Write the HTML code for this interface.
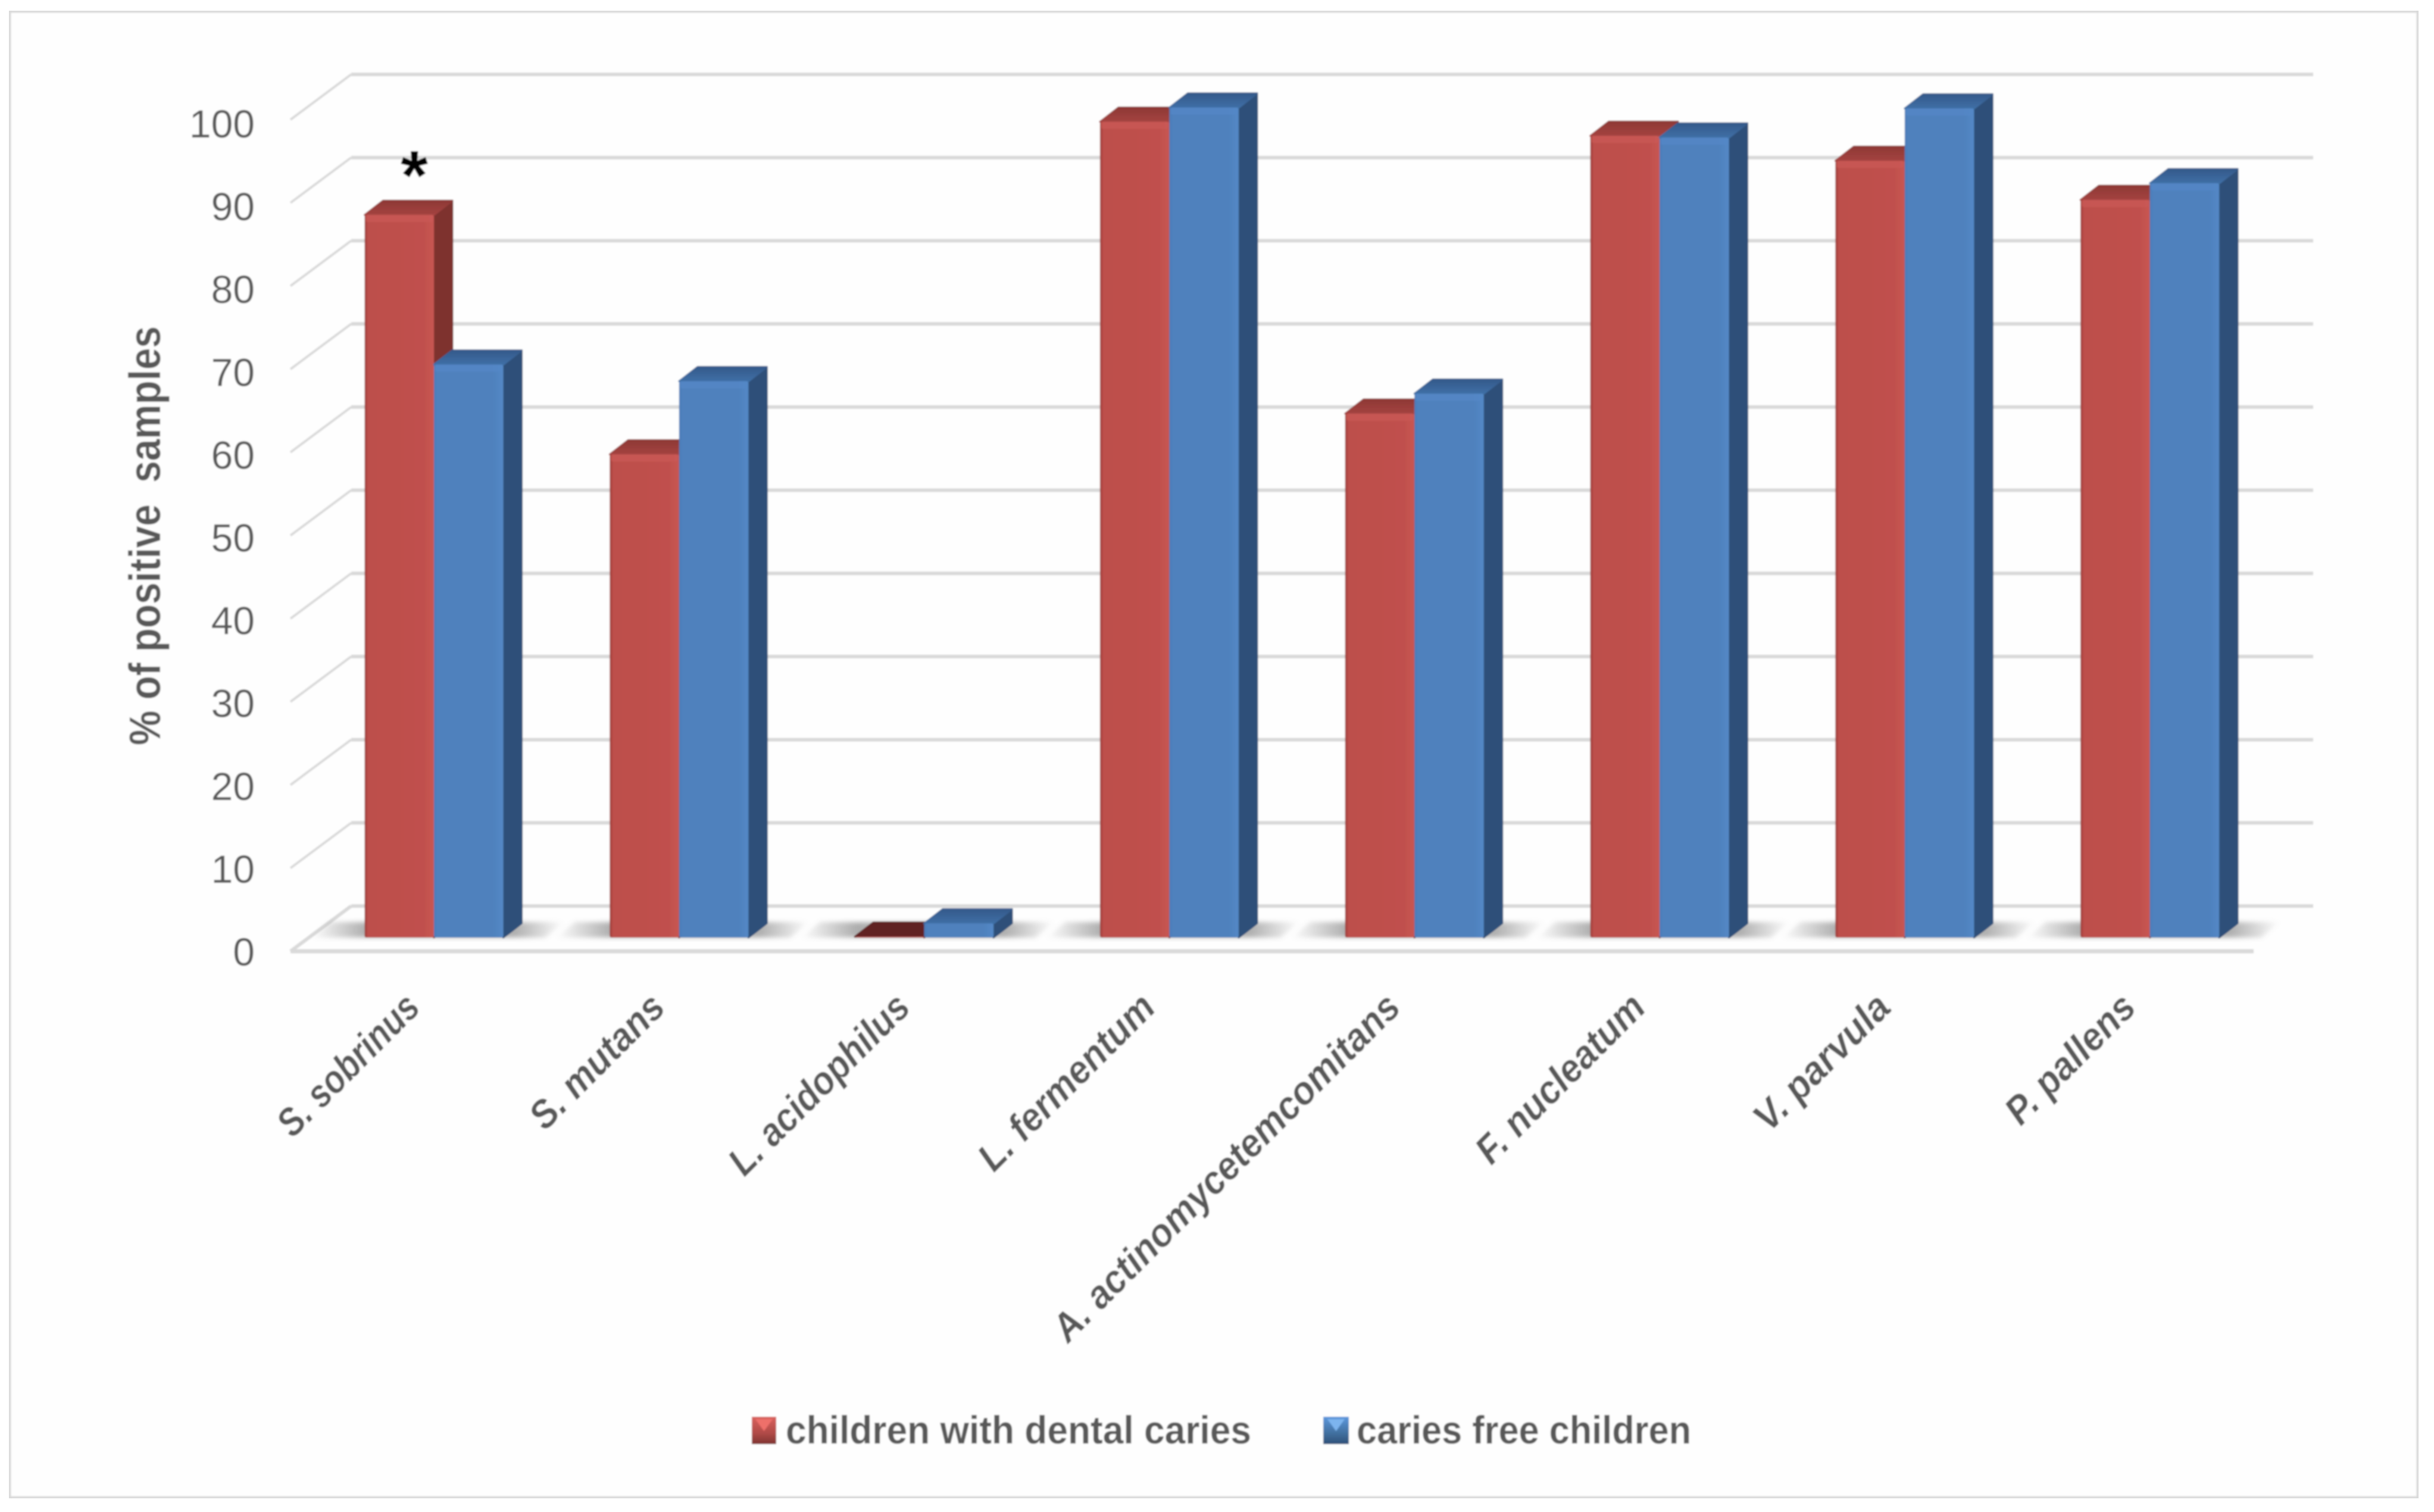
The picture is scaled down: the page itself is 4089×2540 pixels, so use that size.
<!DOCTYPE html>
<html lang="en">
<head>
<meta charset="utf-8">
<title>% of positive samples by species</title>
<style>
html,body{margin:0;padding:0;background:#fff;}
svg{display:block;}
text{font-family:"Liberation Sans",sans-serif;fill:#595959;}
</style>
</head>
<body>
<svg id="chart" xmlns="http://www.w3.org/2000/svg" width="4089" height="2540" viewBox="0 0 4089 2540">
<defs>
<filter id="soft" x="0" y="0" width="100%" height="100%"><feGaussianBlur stdDeviation="1.4"/></filter>
<filter id="shadowBlur" x="-10%" y="-30%" width="120%" height="160%"><feGaussianBlur stdDeviation="4"/></filter>
<linearGradient id="frontRed" x1="0" x2="1" y1="0" y2="0">
<stop offset="0" stop-color="#9c3b38"/><stop offset="0.05" stop-color="#bd4f4b"/><stop offset="0.85" stop-color="#c0504d"/><stop offset="1" stop-color="#c85652"/>
</linearGradient>
<linearGradient id="frontBlue" x1="0" x2="1" y1="0" y2="0">
<stop offset="0" stop-color="#4a7cb8"/><stop offset="0.05" stop-color="#4f81bd"/><stop offset="0.85" stop-color="#4f81bd"/><stop offset="1" stop-color="#5388c6"/>
</linearGradient>
<linearGradient id="topRed" x1="0" x2="0" y1="0" y2="1">
<stop offset="0" stop-color="#8e3835"/><stop offset="1" stop-color="#a44340"/>
</linearGradient>
<linearGradient id="topBlue" x1="0" x2="0" y1="0" y2="1">
<stop offset="0" stop-color="#34598a"/><stop offset="1" stop-color="#3f6fa6"/>
</linearGradient>
<linearGradient id="floorShadow" x1="0" x2="1" y1="0" y2="0">
<stop offset="0" stop-color="#999999" stop-opacity="0"/><stop offset="0.22" stop-color="#999999" stop-opacity="0.8"/><stop offset="0.8" stop-color="#999999" stop-opacity="0.8"/><stop offset="1" stop-color="#999999" stop-opacity="0"/>
</linearGradient>
<linearGradient id="swatchRed" x1="0" x2="0" y1="0" y2="1">
<stop offset="0" stop-color="#d9615d"/><stop offset="0.6" stop-color="#b04a47"/><stop offset="1" stop-color="#7f3331"/>
</linearGradient>
<linearGradient id="swatchBlue" x1="0" x2="0" y1="0" y2="1">
<stop offset="0" stop-color="#5c97dd"/><stop offset="0.6" stop-color="#41709f"/><stop offset="1" stop-color="#2e5079"/>
</linearGradient>
</defs>
<g id="root" filter="url(#soft)">
<rect x="15" y="18" width="4048" height="2499" fill="#fefefe" stroke="#d9d9d9" stroke-width="7"/>
<g id="grid"></g>
<g id="shadows"></g>
<g id="bars"></g>
<g id="yAxis"></g>
<g id="xAxis"></g>
<text transform="translate(269,1252) rotate(-90)" font-size="74" font-weight="bold" textLength="704" lengthAdjust="spacingAndGlyphs" style="white-space:pre">% of positive  samples</text>
<text x="696" y="335" font-size="118" font-weight="bold" text-anchor="middle" style="fill:#000">*</text>
<g>
<g>
<rect x="1263" y="2380" width="41" height="46" fill="url(#swatchRed)"/>
<polygon points="1269,2384 1298,2384 1283.5,2404" fill="#ee6f6b"/>
<text x="1320" y="2425" font-size="66" font-weight="bold" textLength="782" lengthAdjust="spacingAndGlyphs">children with dental caries</text>
</g>
<g>
<rect x="2223" y="2380" width="43" height="46" fill="url(#swatchBlue)"/>
<polygon points="2230,2384 2259,2384 2244.5,2404" fill="#7db4ee"/>
<text x="2279" y="2425" font-size="66" font-weight="bold" textLength="562" lengthAdjust="spacingAndGlyphs">caries free children</text>
</g>
</g>
</g>
</svg>
<script>
var categories = ["S. sobrinus","S. mutans","L. acidophilus","L. fermentum","A. actinomycetemcomitans","F. nucleatum","V. parvula","P. pallens"];
var cariesValues = [86.9,58.1,0.1,98.1,63.0,96.4,93.4,88.7];
var cariesFreeValues = [68.9,66.9,1.7,99.8,65.4,96.2,99.7,90.7];
var yTicks = [0,10,20,30,40,50,60,70,80,90,100];

var NS = "http://www.w3.org/2000/svg";
function mk(parent, tag, attrs){
  var el = document.createElementNS(NS, tag);
  for (var k in attrs) el.setAttribute(k, attrs[k]);
  parent.appendChild(el);
  return el;
}
var UNIT = 13.97, LABEL_UNIT = 13.91, BASE_Y = 1575, BACK_Y = 1522, FRONT_Y = 1598;
var BACK_X = 590, FRONT_X = 488, BACK_END = 3886, FRONT_END = 3786;
var BAR_W = 116.5, CAT_STEP = 411.8, FIRST_X = 612.5, DEPTH_X = 31, DEPTH_Y = 24;
function yBar(v){ return BASE_Y - v * UNIT; }
function yBack(v){ return BACK_Y - v * UNIT; }
function yFront(v){ return FRONT_Y - v * UNIT; }
function yLabel(v){ return 1622 - v * LABEL_UNIT; }
function xBar(i, s){ return FIRST_X + i * CAT_STEP + s * BAR_W; }
function xLabelEnd(i){ return 709 + i * CAT_STEP; }
function labelFit(name){
  if (name === "S. sobrinus") return 0.855;
  if (name === "S. mutans") return 0.92;
  if (name === "L. acidophilus") return 0.90;
  if (name === "V. parvula") return 0.95;
  return 0.93;
}

var grid = document.getElementById("grid");
yTicks.forEach(function(t){
  var back = mk(grid, "line", {x1:BACK_X, y1:yBack(t), x2:BACK_END, y2:yBack(t), stroke:"#d9d9d9", "stroke-width":6});
  
  
  var diag = mk(grid, "line", {x1:FRONT_X, y1:yFront(t), x2:BACK_X, y2:yBack(t), stroke:"#d9d9d9", "stroke-width":t === 0 ? 6 : 4});
  
  
});
var floorFront = mk(grid, "line", {x1:FRONT_X, y1:FRONT_Y, x2:FRONT_END, y2:FRONT_Y, stroke:"#d9d9d9", "stroke-width":7});



var yAxis = document.getElementById("yAxis");
yTicks.forEach(function(t){
  var lab = mk(yAxis, "text", {x:428, y:yLabel(t), "font-size":66, "text-anchor":"end"});
  
  
  lab.textContent = String(t);
});

var shadows = document.getElementById("shadows");
categories.forEach(function(c, i){
  var x0 = xBar(i, 0);
  var pts = [[x0-90,BASE_Y],[x0-58,BASE_Y-26],[x0+2*BAR_W+102,BASE_Y-26],[x0+2*BAR_W+70,BASE_Y]];
  var s = mk(shadows, "polygon", {points:pts.map(function(p){return p.join(",");}).join(" "), fill:"url(#floorShadow)", filter:"url(#shadowBlur)"});
  
  
});

function drawBar(g, i, s, v, front, top, side, tinyTop, hi){
  var x = xBar(i, s), y = yBar(v), w = BAR_W;
  var sidePoly = mk(g, "polygon", {points:[[x+w,BASE_Y],[x+w+DEPTH_X,BASE_Y-DEPTH_Y],[x+w+DEPTH_X,y-DEPTH_Y],[x+w,y]].join(" "), fill:side, stroke:side, "stroke-width":3, "stroke-linejoin":"round"});
  
  
  var topFill = v < 1 ? tinyTop : top;
  var topPoly = mk(g, "polygon", {points:[[x,y],[x+DEPTH_X,y-DEPTH_Y],[x+w+DEPTH_X,y-DEPTH_Y],[x+w,y]].join(" "), fill:topFill, stroke:v < 1 ? tinyTop : top, "stroke-width":3, "stroke-linejoin":"round"});
  
  
  var frontRect = mk(g, "rect", {x:x, y:y, width:w, height:BASE_Y-y, rx:3, fill:front});
  
  
  if (BASE_Y - y > 30) {
    var strip = mk(g, "rect", {x:x+2, y:y, width:w-4, height:12, rx:3, fill:hi, opacity:0.7});
    
    
  }
}
var bars = document.getElementById("bars");
categories.forEach(function(c, i){
  var g = mk(bars, "g", {});
  
  
  drawBar(g, i, 0, cariesValues[i], "url(#frontRed)", "url(#topRed)", "#7e312f", "#612321", "#cb5a56");
  drawBar(g, i, 1, cariesFreeValues[i], "url(#frontBlue)", "url(#topBlue)", "#2e5079", "#34598a", "#5488c8");
});

var xAxis = document.getElementById("xAxis");
categories.forEach(function(c, i){
  var lab = mk(xAxis, "text", {transform:"translate(" + xLabelEnd(i) + ",1696) rotate(-45) scale(" + labelFit(c) + ",1)", "font-size":66, "font-weight":"bold", "font-style":"italic", "text-anchor":"end"});
  
  
  lab.textContent = c;
});
</script>
</body>
</html>
